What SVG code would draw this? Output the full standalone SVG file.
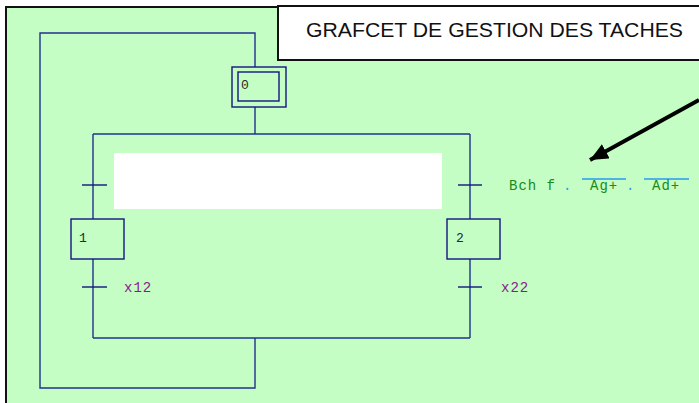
<svg xmlns="http://www.w3.org/2000/svg" width="699" height="403" viewBox="0 0 699 403">
  <style>
    .wire { fill: none; stroke: #22308f; stroke-width: 1.4; }
    .step { fill: none; stroke: #14147f; stroke-width: 1.4; }
    .tr { stroke: #14147f; stroke-width: 1.4; }
    .num { font-family: "Liberation Mono", "DejaVu Sans Mono", monospace; font-size: 13px; fill: #2a2a2a; }
    .rcpt { font-family: "Liberation Mono", "DejaVu Sans Mono", monospace; font-size: 14px; letter-spacing: 1px; }
    .cond { fill: #1a8a1a; }
    .op { fill: #2a9af0; }
    .var { fill: #8a1a8a; }
    .bar { stroke: #2a9af0; stroke-width: 1.3; }
  </style>
  <defs>
    <marker id="head" markerUnits="userSpaceOnUse" markerWidth="20" markerHeight="18" refX="18" refY="8" orient="auto">
      <path d="M0,0 L18,8 L0,16 Z" fill="#000"/>
    </marker>
  </defs>

  <rect x="0" y="0" width="699" height="403" fill="#fff"/>
  <!-- working area -->
  <rect x="6" y="7" width="720" height="420" fill="#c4fec4" stroke="#111" stroke-width="2"/>

  <!-- title banner -->
  <g id="title">
    <rect x="278" y="6" width="440" height="54" fill="#fff" stroke="#111" stroke-width="2"/>
    <text x="306" y="37" font-family="Liberation Sans, Arial, sans-serif" font-size="20.5" textLength="377" lengthAdjust="spacingAndGlyphs" fill="#111">GRAFCET DE GESTION DES TACHES</text>
  </g>

  <!-- links between steps -->
  <g id="connectors">
    <path class="wire" d="M255,67 V33 H40 V388 H255 V338"/>
    <path class="wire" d="M255,107 V134"/>
    <path class="wire" d="M93,134 H470"/>
    <path class="wire" d="M93,134 V219 M93,259 V338"/>
    <path class="wire" d="M470,134 V219 M470,259 V338"/>
    <path class="wire" d="M93,338 H470"/>
    <line class="tr" x1="82" y1="185" x2="107" y2="185"/>
    <line class="tr" x1="458" y1="185" x2="482" y2="185"/>
    <line class="tr" x1="82" y1="287" x2="107" y2="287"/>
    <line class="tr" x1="458" y1="287" x2="482" y2="287"/>
    <line x1="699" y1="100" x2="590" y2="160" stroke="#000" stroke-width="4" marker-end="url(#head)"/>
  </g>

  <!-- masked area over left receptivity -->
  <rect x="114" y="153" width="328" height="56" fill="#fff"/>

  <g id="step0">
    <rect class="step" x="232" y="67" width="54" height="40"/>
    <rect class="step" x="238" y="72" width="41" height="29"/>
    <text class="num" x="241" y="89">0</text>
  </g>

  <g id="step1">
    <rect class="step" x="71" y="219" width="53" height="40"/>
    <text class="num" x="79" y="242">1</text>
  </g>

  <g id="step2">
    <rect class="step" x="447" y="219" width="53" height="40"/>
    <text class="num" x="456" y="242">2</text>
  </g>

  <g id="t12">
    <text class="rcpt var" x="124" y="292">x12</text>
  </g>
  <g id="t22">
    <text class="rcpt var" x="501" y="292">x22</text>
  </g>

  <g id="t2">
    <text class="rcpt cond" x="509" y="190">Bch f</text>
    <text class="rcpt op" x="563" y="190">.</text>
    <line class="bar" x1="582" y1="179" x2="626" y2="179"/>
    <text class="rcpt cond" x="590" y="190">Ag+</text>
    <text class="rcpt op" x="626" y="190">.</text>
    <line class="bar" x1="644" y1="179" x2="689" y2="179"/>
    <text class="rcpt cond" x="652" y="190">Ad+</text>
  </g>
</svg>
